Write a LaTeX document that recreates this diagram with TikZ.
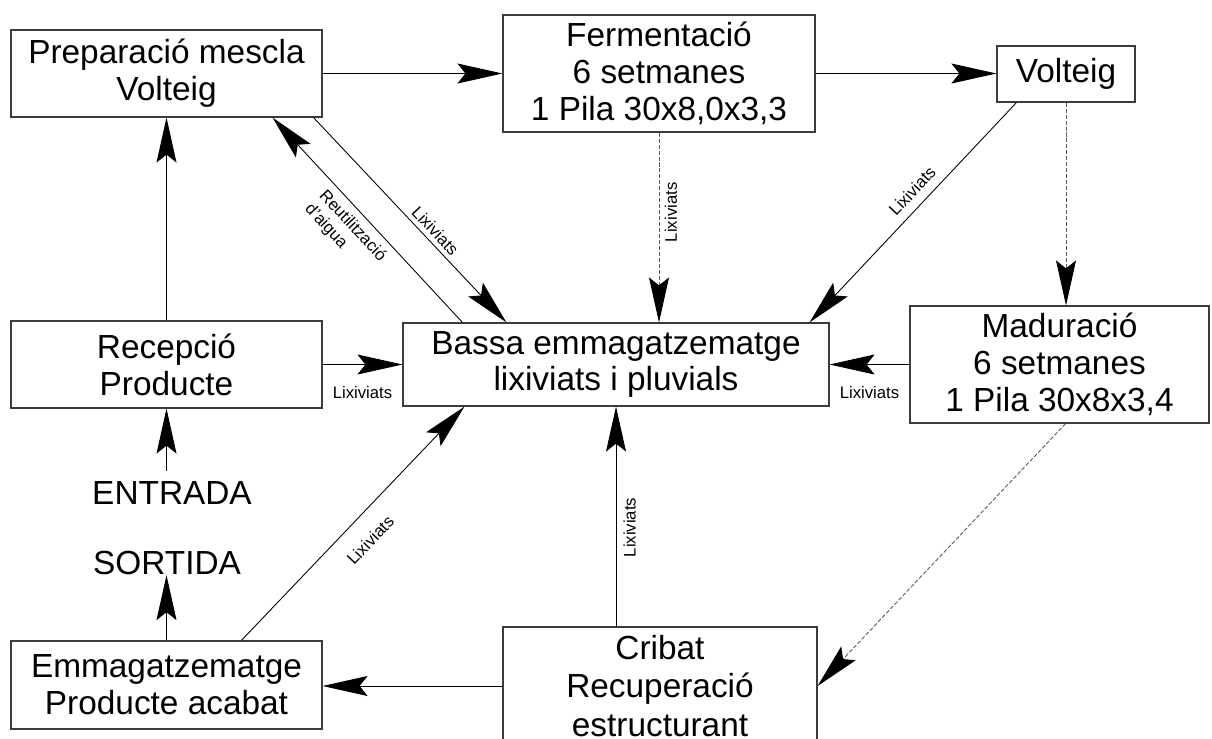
\documentclass[tikz,border=0pt]{standalone}
\usepackage{fontspec}
\setmainfont{Liberation Sans}
\usetikzlibrary{arrows.meta,calc,positioning}
\definecolor{cpVora}{RGB}{60,60,60}
\definecolor{cpGris}{RGB}{90,90,90}
\tikzset{
  etapa/.style={draw=cpVora, line width=0.7pt, align=center, inner sep=0pt,
    font=\fontsize{19}{21}\selectfont},
  rotul/.style={inner sep=0pt, font=\fontsize{19}{21}\selectfont},
  punta/.style={-{Stealth[length=9mm,width=4mm,inset=1.6mm,color=black]}},
  flux/.style={draw=black, line width=0.5pt, punta},
  fluxdash/.style={draw=cpGris, line width=0.5pt, dash pattern=on 2.3pt off 1.1pt, punta},
  etiq/.style={inner sep=1pt, font=\fontsize{9.5}{11}\selectfont}
}

\begin{document}
\begin{tikzpicture}[x=0.02cm,y=-0.02cm]
  \useasboundingbox (0,0) rectangle (1212,738);
  % etapes del proces
  \node[etapa, minimum width=6.22cm, minimum height=1.74cm] (prep) at (166.5,73.5) {Preparació mescla\\Volteig};
  \node[etapa, minimum width=6.24cm, minimum height=2.34cm] (ferm) at (659,73.5) {Fermentació\\6 setmanes\\1 Pila 30x8,0x3,3};
  \node[etapa, minimum width=2.76cm, minimum height=1.12cm] (volteig) at (1066,74) {Volteig};
  \node[etapa, minimum width=6.22cm, minimum height=1.74cm] (recep) at (166.5,364.5) {Recepció\\Producte};
  \node[etapa, minimum width=8.52cm, minimum height=1.66cm] (bassa) at (616,364.5) {Bassa emmagatzematge\\lixiviats i pluvials};
  \node[etapa, minimum width=5.98cm, minimum height=2.34cm] (madur) at (1059.5,364.5) {Maduració\\6 setmanes\\1 Pila 30x8x3,4};
  \node[etapa, minimum width=6.22cm, minimum height=1.76cm] (emmag) at (166.5,685) {Emmagatzematge\\Producte acabat};
  \node[etapa, minimum width=6.28cm, minimum height=2.36cm, font=\fontsize{19}{22}\selectfont] (cribat) at (660,686) {Cribat\\Recuperació\\estructurant};
  \node[rotul, inner ysep=6pt] (entrada) at (172,493) {ENTRADA};
  \node[rotul] (sortida) at (167,563) {SORTIDA};
  % linia principal
  \draw[flux] (prep.east) -- (ferm.west);
  \draw[flux] (ferm.east) -- (ferm.east -| volteig.west);
  \draw[fluxdash] (volteig.south) -- (volteig.south |- madur.north);
  \draw[fluxdash] ($(madur.south)+(6,0)$) -- (cribat.east);
  \draw[flux] (cribat.west) -- (cribat.west -| emmag.east);
  \draw[flux] (emmag.north) -- (emmag.north |- sortida.south);
  \draw[flux] (recep.south |- entrada.north) -- (recep.south);
  \draw[flux] (recep.north) -- (prep.south);
  % lixiviats cap a la bassa
  \draw[flux] (recep.east) -- node[etiq, below=11pt] {Lixiviats} (bassa.west);
  \draw[flux] (madur.west) -- node[etiq, below=11pt] {Lixiviats} (bassa.east);
  \draw[flux] (bassa.south |- cribat.north) -- node[etiq, sloped, pos=0.45, below=3pt] {Lixiviats} (bassa.south);
  \draw[flux] ($(emmag.north west)+(231,0)$) -- node[etiq, sloped, pos=0.5, below=9pt] {Lixiviats} ($(bassa.south west)+(62,0)$);
  \draw[fluxdash] (ferm.south) -- node[etiq, rotate=90, anchor=north, pos=0.42, inner sep=3pt] {Lixiviats} (ferm.south |- bassa.north);
  \draw[flux] ($(volteig.south west)+(20,0)$) -- node[etiq, sloped, pos=0.45, above=4pt] {Lixiviats} ($(bassa.north east)+(-20,0)$);
  \draw[flux] ($(prep.south east)+(-9,0)$) -- node[etiq, sloped, pos=0.59, above=1.5pt] {Lixiviats} ($(bassa.north west)+(104,0)$);
  \draw[flux] ($(bassa.north west)+(60,0)$) -- node[etiq, sloped, pos=0.52, below=3pt, align=left] {Reutilització\\d'aigua} ($(prep.south east)+(-50,0)$);
\end{tikzpicture}
\end{document}
